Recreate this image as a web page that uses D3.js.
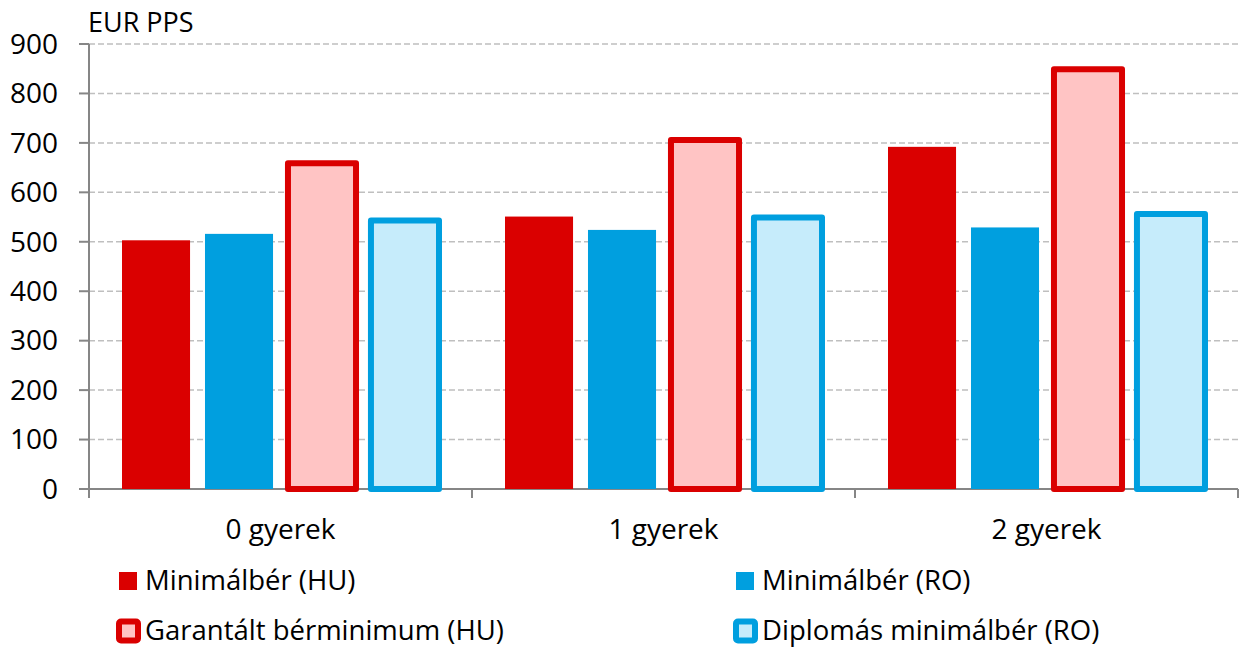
<!DOCTYPE html>
<html>
<head>
<meta charset="utf-8">
<script src="https://cdn.jsdelivr.net/npm/d3@7"></script>
<style>
  body { margin: 0; background: #fff; }
  text { font-family: 'Open Sans', sans-serif; fill: #000; }
</style>
</head>
<body>
<script>
let categories = ['0 gyerek', '1 gyerek', '2 gyerek']
let series = ['Minimálbér (HU)', 'Minimálbér (RO)', 'Garantált bérminimum (HU)', 'Diplomás minimálbér (RO)']
let minHU = [503, 551, 692]
let minRO = [516, 524, 529]
let garHU = [659, 706, 849]
let dipRO = [543, 549, 556]
let yTicks = [0, 100, 200, 300, 400, 500, 600, 700, 800, 900]
let unitLabel = 'EUR PPS'

let values = [minHU, minRO, garHU, dipRO]

let width = 1240,
  height = 649

let margin = { top: 44, bottom: 160, left: 89, right: 2 }

let svg = d3.select('body')
  .append('svg')
  .attr('width', width)
  .attr('height', height)

let styles = [
  { fill: '#da0000', stroke: null },
  { fill: '#009fdf', stroke: null },
  { fill: '#ffc4c4', stroke: '#da0000' },
  { fill: '#c6ecfb', stroke: '#009fdf' }
]

let y = d3.scaleLinear()
  .domain([0, 900])
  .range([height - margin.bottom, margin.top])

let x0 = d3.scaleBand()
  .domain(categories)
  .range([margin.left, width - margin.right])

let x1 = d3.scaleBand()
  .domain(series)
  .range([33, x0.bandwidth() - 33])
  .paddingInner(0.18)

// gridlines
svg.append('g')
  .selectAll('line')
  .data(yTicks.filter(d => d > 0))
  .enter()
  .append('line')
  .attr('x1', margin.left)
  .attr('x2', width - margin.right)
  .attr('y1', d => y(d))
  .attr('y2', d => y(d))
  .attr('stroke', '#bfbfbf')
  .attr('stroke-width', 1.5)
  .attr('stroke-dasharray', '6,3')

// y axis
svg.append('line')
  .attr('x1', margin.left).attr('x2', margin.left)
  .attr('y1', y(900)).attr('y2', y(0))
  .attr('stroke', '#868686').attr('stroke-width', 2)

svg.append('g')
  .selectAll('line')
  .data(yTicks)
  .enter()
  .append('line')
  .attr('x1', margin.left - 10)
  .attr('x2', margin.left)
  .attr('y1', d => y(d))
  .attr('y2', d => y(d))
  .attr('stroke', '#868686').attr('stroke-width', 2)

svg.append('g')
  .selectAll('text')
  .data(yTicks)
  .enter()
  .append('text')
  .attr('x', 58)
  .attr('y', d => y(d))
  .attr('dy', '0.35em')
  .attr('text-anchor', 'end')
  .attr('font-size', '28px')
  .text(d => d)

// x axis
svg.append('line')
  .attr('x1', margin.left - 10).attr('x2', width - margin.right)
  .attr('y1', y(0)).attr('y2', y(0))
  .attr('stroke', '#868686').attr('stroke-width', 2)

let xTickPos = categories.map(c => x0(c)).concat([x0(categories[categories.length - 1]) + x0.bandwidth()])

svg.append('g')
  .selectAll('line')
  .data(xTickPos)
  .enter()
  .append('line')
  .attr('x1', d => d).attr('x2', d => d)
  .attr('y1', y(0)).attr('y2', y(0) + 9)
  .attr('stroke', '#868686').attr('stroke-width', 2)

svg.append('g')
  .selectAll('text')
  .data(categories)
  .enter()
  .append('text')
  .attr('x', d => x0(d) + x0.bandwidth() / 2)
  .attr('y', 539)
  .attr('text-anchor', 'middle')
  .attr('font-size', '28px')
  .text(d => d)

svg.append('text')
  .attr('x', 88)
  .attr('y', 32)
  .attr('font-size', '27px')
  .text(unitLabel)

// bars
let barData = []
categories.forEach((c, i) => {
  series.forEach((s, j) => {
    barData.push({ cat: c, series: s, idx: j, value: values[j][i] })
  })
})

svg.append('g')
  .selectAll('rect')
  .data(barData)
  .enter()
  .append('rect')
  .attr('x', d => x0(d.cat) + x1(d.series))
  .attr('y', d => y(d.value))
  .attr('width', x1.bandwidth())
  .attr('height', d => y(0) - y(d.value))
  .attr('fill', d => styles[d.idx].fill)
  .attr('stroke', d => styles[d.idx].stroke || 'none')
  .attr('stroke-width', 6)
  .attr('stroke-linejoin', 'round')

// legend
let legendPos = [
  { x: 119, y: 581 },
  { x: 736, y: 581 },
  { x: 119, y: 631 },
  { x: 736, y: 631 }
]

let legend = svg.append('g')

series.forEach((s, i) => {
  let p = legendPos[i]
  let st = styles[i]
  if (st.stroke) {
    legend.append('rect')
      .attr('x', p.x)
      .attr('y', p.y - 9.5)
      .attr('width', 19)
      .attr('height', 19)
      .attr('rx', 2)
      .attr('fill', st.fill)
      .attr('stroke', st.stroke)
      .attr('stroke-width', 6)
      .attr('stroke-linejoin', 'round')
  } else {
    legend.append('rect')
      .attr('x', p.x)
      .attr('y', p.y - 9)
      .attr('width', 18)
      .attr('height', 18)
      .attr('fill', st.fill)
  }
  legend.append('text')
    .attr('x', p.x + 26)
    .attr('y', p.y)
    .attr('dy', '0.34em')
    .attr('font-size', '27.5px')
    .text(s)
})
</script>
</body>
</html>
